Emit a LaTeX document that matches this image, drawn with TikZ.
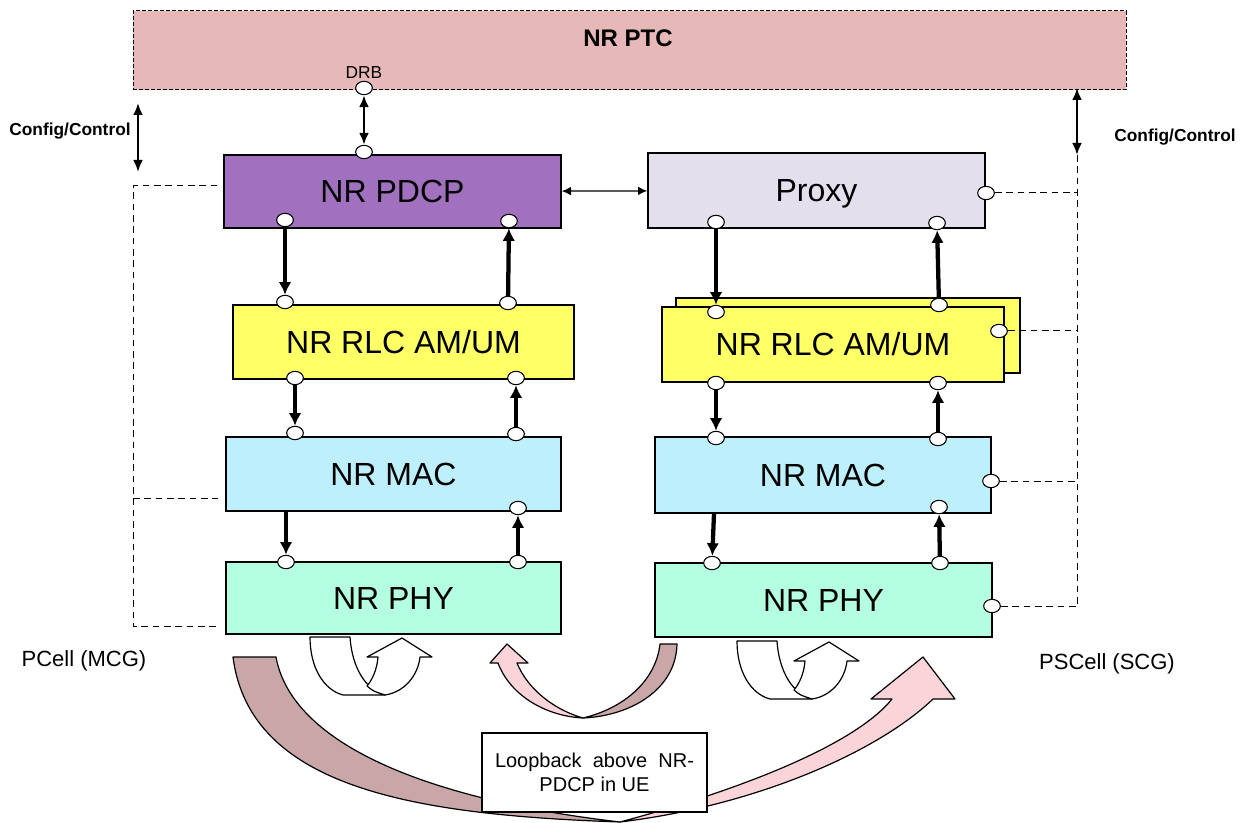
\documentclass[tikz,border=0pt]{standalone}
\usepackage{fontspec}
\setmainfont{Liberation Sans}
\usepackage{tikz}
\usetikzlibrary{arrows.meta,shapes.geometric}

\definecolor{ptccol}{RGB}{230,184,183}
\definecolor{pdcpcol}{RGB}{161,113,192}
\definecolor{proxycol}{RGB}{228,223,236}
\definecolor{rlccol}{RGB}{255,255,102}
\definecolor{maccol}{RGB}{189,240,252}
\definecolor{phycol}{RGB}{179,255,224}
\definecolor{tailcol}{RGB}{201,167,168}
\definecolor{headcol}{RGB}{250,212,217}

\tikzset{
  layer/.style={draw, line width=1pt, inner sep=0pt, text height=17pt, text depth=0pt,
    font=\fontsize{24}{26}\selectfont},
  port/.style={ellipse, draw, fill=white, line width=0.8pt, inner sep=0pt,
    minimum width=12.5pt, minimum height=10pt},
  flow/.style={-{Latex[length=9.5pt,width=9.5pt]}, line width=3.2pt},
  ctrl/.style={{Latex[length=9pt,width=7.5pt]}-{Latex[length=9pt,width=7.5pt]}, line width=1.9pt},
  cfgline/.style={line width=0.75pt, dash pattern=on 5pt off 3.5pt},
  bent/.style={draw, line width=0.9pt, line join=round},
  side label/.style={font=\fontsize{16.5}{19}\selectfont}
}

\begin{document}
\begin{tikzpicture}[x=0.75pt,y=-0.75pt]
  \useasboundingbox (0,0) rectangle (1246,823);

  % loopback arrows (drawn first, box goes on top)
  \path[bent, fill=tailcol] (233,657) -- (276,657)
    .. controls (292,745) and (430,800) .. (620,822)
    .. controls (420,815) and (250,790) .. (233,657) -- cycle;
  \path[bent, fill=headcol] (620,822)
    .. controls (760,805) and (880,750) .. (933,699)
    -- (955,699) -- (923,657) -- (871,699) -- (892,699)
    .. controls (855,745) and (740,790) .. (620,822) -- cycle;
  \path[bent, fill=tailcol] (660,644) -- (677,644)
    .. controls (676,690) and (630,716) .. (583,718)
    .. controls (625,708) and (656,680) .. (660,644) -- cycle;
  \path[bent, fill=headcol] (583,718)
    .. controls (545,716) and (510,695) .. (498,663)
    -- (490,663) -- (507,644) -- (528,663) -- (517,663)
    .. controls (528,690) and (555,710) .. (583,718) -- cycle;
  \foreach \dx/\dy in {0/0, 427/4} {
    \begin{scope}[shift={(\dx,\dy)}]
      \path[bent, fill=white] (310,637) -- (350,637)
        .. controls (352,668) and (366,690) .. (385,695) -- (343,695)
        .. controls (324,690) and (310,668) .. (310,637) -- cycle;
      \path[bent, fill=white] (385,695)
        .. controls (405,692) and (418,675) .. (420,657)
        -- (432,657) -- (402,638) -- (367,657) -- (378,657)
        .. controls (377,670) and (372,680) .. (367,686)
        .. controls (373,691) .. (385,695) -- cycle;
    \end{scope}
  }

  % PTC
  \node[draw, fill=ptccol, line width=0.75pt, dash pattern=on 3pt off 1.5pt,
    minimum width=744.75pt, minimum height=59.25pt] (ptc) at (629.5,50.5) {};
  \node[font=\fontsize{18}{20}\selectfont\bfseries] (ptcname) at (628,38) {NR PTC};
  \node[font=\fontsize{13}{15}\selectfont] (drbname) at (364,73) {DRB};

  % MCG stack
  \node[layer, fill=pdcpcol, minimum width=252.75pt, minimum height=54.75pt] (pdcp) at (392.5,191.5) {NR PDCP};
  \node[layer, fill=rlccol, minimum width=255.75pt, minimum height=55.5pt] (rlcA) at (403.5,342) {NR RLC AM/UM};
  \node[layer, fill=maccol, minimum width=251.25pt, minimum height=55.5pt] (macA) at (393.5,474) {NR MAC};
  \node[layer, fill=phycol, minimum width=251.25pt, minimum height=54pt] (phyA) at (393.5,598) {NR PHY};

  % SCG stack
  \node[layer, fill=proxycol, minimum width=252.75pt, minimum height=56.25pt] (proxy) at (816.5,190.5) {Proxy};
  \node[layer, fill=rlccol, minimum width=258pt, minimum height=56.25pt] (rlcBback) at (848,335.5) {};
  \node[layer, fill=rlccol, minimum width=256.5pt, minimum height=56.25pt] (rlcB) at (833,344.5) {NR RLC AM/UM};
  \node[layer, fill=maccol, minimum width=252pt, minimum height=57pt] (macB) at (823,475) {NR MAC};
  \node[layer, fill=phycol, minimum width=252.75pt, minimum height=55.5pt] (phyB) at (823.5,600) {NR PHY};

  % ports
  \node[port] (drb) at (364,88) {};
  \node[port] (pdcpT) at (364,152) {};
  \node[port] (pdcpL) at (285,220) {};
  \node[port] (pdcpR) at (509,221) {};
  \node[port] (rlcAtl) at (285,302) {};
  \node[port] (rlcAtr) at (508,303) {};
  \node[port] (rlcAbl) at (295,378) {};
  \node[port] (rlcAbr) at (516,378) {};
  \node[port] (macAtl) at (295,433) {};
  \node[port] (macAtr) at (516,434) {};
  \node[port] (macAin) at (518,508) {};
  \node[port] (phyAtl) at (286,562) {};
  \node[port] (phyAtr) at (518,562) {};

  \node[port] (proxyL) at (716,222) {};
  \node[port] (proxyR) at (937,223) {};
  \node[port] (proxyE) at (986,193) {};
  \node[port] (rlcBtl) at (716,312) {};
  \node[port] (rlcBtr) at (939,305) {};
  \node[port] (rlcBe) at (999,331) {};
  \node[port] (rlcBbl) at (716,383) {};
  \node[port] (rlcBbr) at (938,383) {};
  \node[port] (macBtl) at (716,438) {};
  \node[port] (macBtr) at (938,439) {};
  \node[port] (macBin) at (939,507) {};
  \node[port] (macBe) at (991,481) {};
  \node[port] (phyBtl) at (712,563) {};
  \node[port] (phyBtr) at (940,563) {};
  \node[port] (phyBe) at (992,606) {};

  % data flow
  \draw[ctrl] (drb) -- (pdcpT);
  \draw[{Latex[length=7pt,width=6.5pt]}-{Latex[length=7pt,width=6.5pt]}, line width=1pt] (pdcp) -- (proxy);
  \draw[flow] (pdcpL) -- (rlcAtl);
  \draw[flow] (rlcAtr) -- (pdcpR);
  \draw[flow] (rlcAbl) -- (macAtl);
  \draw[flow] (macAtr) -- (rlcAbr);
  \draw[flow] (macA.south -| phyAtl) -- (phyAtl);
  \draw[flow] (phyAtr) -- (macAin);
  \draw[flow] (proxyL) -- (rlcBtl);
  \draw[flow] (rlcBtr) -- (proxyR);
  \draw[flow] (rlcBbl) -- (macBtl);
  \draw[flow] (macBtr) -- (rlcBbr);
  \draw[flow] ([xshift=1.5pt]macB.south -| phyBtl) -- (phyBtl);
  \draw[flow] (phyBtr) -- (macBin);

  % config / control
  \coordinate (cfgLa) at (138,103);
  \coordinate (cfgLb) at (138,172);
  \coordinate (cfgRa) at (1077,88);
  \coordinate (cfgRb) at (1077,155);
  \draw[ctrl] (cfgLa) -- (cfgLb);
  \draw[ctrl] (cfgRa) -- (cfgRb);
  \node[font=\fontsize{13}{15}\selectfont\bfseries] (cfgLname) at (70,131) {Config/Control};
  \node[font=\fontsize{13}{15}\selectfont\bfseries] (cfgRname) at (1175,137) {Config/Control};

  \coordinate (busL1) at (133,186);
  \coordinate (busL2) at (133,498);
  \coordinate (busL3) at (133,626);
  \coordinate (busR) at (1077,606);
  \draw[cfgline] (pdcp.west |- busL1) ++(-6,0) -- (busL1) -- (busL3) -- ++(85,0);
  \draw[cfgline] (busL2) -- ++(85,0);
  \draw[cfgline] (cfgRb) -- (busR);
  \draw[cfgline] (proxyE) -- (proxyE -| busR);
  \draw[cfgline] (rlcBe) -- (rlcBe -| busR);
  \draw[cfgline] (macBe) -- (macBe -| busR);
  \draw[cfgline] (phyBe) -- (phyBe -| busR);

  \node[side label] (pcell) at (84,661) {PCell (MCG)};
  \node[side label] (pscell) at (1107,664) {PSCell (SCG)};

  \node[draw, fill=white, line width=1pt, minimum width=168.75pt, minimum height=59.25pt,
    align=center, font=\fontsize{15}{17.5}\selectfont] (loop) at (594.5,772.5)
    {Loopback\ \ above\ \ NR-\\PDCP in UE};
\end{tikzpicture}
\end{document}
